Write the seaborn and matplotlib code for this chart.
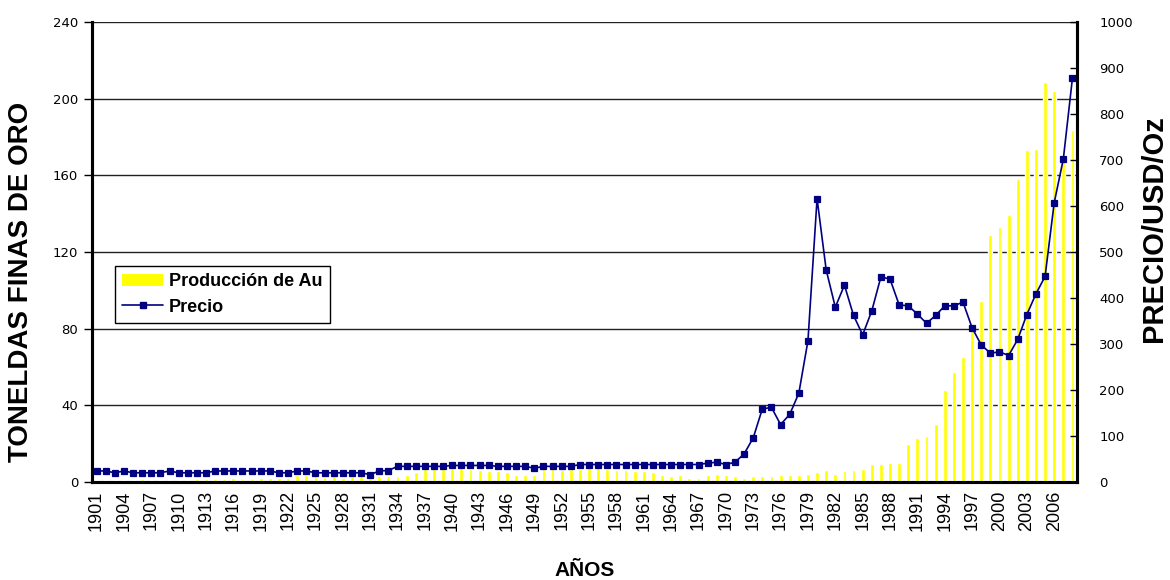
import matplotlib
matplotlib.use("Agg")
import matplotlib.pyplot as plt
import seaborn as sns
import pandas as pd
from matplotlib.patches import Patch
from matplotlib.lines import Line2D

years = list(range(1901, 2009))

produccion = [
    1.0, 1.0, 1.0, 1.0, 1.0, 1.6, 1.0, 1.0, 1.0, 1.0,      # 1901-1910
    1.0, 1.6, 1.6, 1.6, 1.6, 2.1, 1.6, 1.6, 2.1, 2.1,      # 1911-1920
    2.1, 2.1, 3.5, 3.5, 3.5, 2.8, 3.5, 2.1, 3.5, 3.5,      # 1921-1930
    2.1, 3.1, 3.1, 3.1, 3.5, 5.2, 7.0, 7.0, 7.0, 7.4,      # 1931-1940
    7.4, 7.0, 6.5, 5.8, 5.8, 5.3, 3.6, 3.6, 3.6, 7.0,      # 1941-1950
    7.4, 6.5, 7.0, 7.0, 7.8, 7.8, 6.7, 6.3, 6.3, 5.8,      # 1951-1960
    5.8, 5.3, 3.7, 3.1, 3.7, 2.2, 2.2, 3.6, 4.2, 3.7,      # 1961-1970
    3.3, 2.3, 3.1, 3.1, 3.1, 3.7, 3.7, 3.7, 4.2, 5.2,      # 1971-1980
    6.3, 4.2, 5.7, 6.3, 6.8, 9.4, 9.4, 9.9, 9.8, 19.8,     # 1981-1990
    23.0, 24.0, 30.3, 48.0, 57.4, 65.2, 78.7, 94.4, 128.8, 133.0,  # 1991-2000
    139.2, 158.0, 173.2, 173.7, 208.7, 204.0, 170.6, 183.6,        # 2001-2008
]

precio = [
    24, 24, 20, 24, 20, 20, 20, 20, 24, 20,        # 1901-1910
    20, 20, 20, 24, 24, 24, 24, 24, 24, 24,        # 1911-1920
    20, 20, 24, 24, 20, 20, 20, 20, 20, 20,        # 1921-1930
    16, 24, 25, 34, 34, 34, 34, 34, 34, 36,        # 1931-1940
    36, 36, 36, 36, 34, 34, 34, 34, 30, 34,        # 1941-1950
    34, 34, 34, 38, 38, 38, 38, 38, 38, 38,        # 1951-1960
    38, 38, 38, 38, 38, 38, 38, 41, 43, 38,        # 1961-1970
    43, 61, 96, 159, 162, 125, 147, 193, 307, 616, # 1971-1980
    461, 380, 428, 362, 320, 372, 446, 441, 385, 383,  # 1981-1990
    365, 345, 362, 383, 383, 391, 335, 298, 280, 283,  # 1991-2000
    275, 310, 364, 409, 447, 607, 702, 878,            # 2001-2008
]

left_ticks = [0, 40, 80, 120, 160, 200, 240]
right_ticks = [0, 100, 200, 300, 400, 500, 600, 700, 800, 900, 1000]
tick_years = years[::3]

df = pd.DataFrame({"year": [str(y) for y in years], "prod": produccion, "precio": precio})
order = df["year"].tolist()

sns.set_style("white")
plt.rcParams["font.family"] = ["Liberation Sans", "DejaVu Sans"]
for k in ("text.color", "axes.labelcolor", "xtick.color", "ytick.color", "axes.edgecolor"):
    plt.rcParams[k] = "black"

fig = plt.figure(figsize=(11.7, 5.8), dpi=100)
ax1 = fig.add_axes([92 / 1170, 98 / 580, 985 / 1170, 460 / 580])

sns.barplot(data=df, x="year", y="prod", order=order, color="#FFFF00",
            width=0.42, saturation=1, ax=ax1, zorder=3)
ax1.set_ylim(0, 240)
ax1.set_yticks(left_ticks)
ax1.set_yticklabels([str(t) for t in left_ticks], fontsize=9.5, family="DejaVu Sans")
ax1.grid(axis="y", color="#222222", linewidth=1.0)
ax1.grid(axis="x", visible=False)
ax1.set_axisbelow(True)

ax2 = ax1.twinx()
sns.pointplot(data=df, x="year", y="precio", order=order, color="#000080",
              marker="s", markersize=4, linewidth=1.2, errorbar=None, ax=ax2)
ax2.set_ylim(0, 1000)
ax2.set_yticks(right_ticks)
ax2.set_yticklabels([str(t) for t in right_ticks], fontsize=9.5, family="DejaVu Sans")
ax2.grid(False)

for ax in (ax1, ax2):
    ax.set_xlabel("")
    ax.set_ylabel("")
ax1.set_xlim(-0.5, len(years) - 0.5)
ax1.set_xticks([years.index(y) for y in tick_years])
ax1.set_xticklabels([str(y) for y in tick_years], rotation=90, fontsize=13)
ax1.tick_params(axis="x", length=0, pad=6)
ax1.tick_params(axis="y", direction="out", length=6, width=1, color="black", pad=4, left=True)
ax2.tick_params(axis="y", direction="in", length=5, width=1, color="black", pad=16, right=True)

for ax in (ax1, ax2):
    ax.spines["top"].set_visible(False)
    for s in ("left", "bottom", "right"):
        ax.spines[s].set_linewidth(2.2)
        ax.spines[s].set_color("black")

handles = [Patch(facecolor="#FFFF00", edgecolor="none", label="Producción de Au"),
           Line2D([0], [0], color="#000080", marker="s", markersize=4, linewidth=1.2, label="Precio")]
leg = ax2.legend(handles=handles, loc="lower left", bbox_to_anchor=(0.023, 0.346),
                 frameon=True, fancybox=False, framealpha=1, edgecolor="black",
                 prop={"family": "Liberation Sans", "weight": "bold", "size": 13},
                 handlelength=2.3, handletextpad=0.3, borderpad=0.4, labelspacing=0.45,
                 borderaxespad=0)
leg.get_frame().set_linewidth(1.0)

fig.text(21 / 1170, 1 - 282 / 580, "TONELDAS FINAS DE ORO", rotation=90, ha="center", va="center",
         fontsize=20, fontweight="bold")
fig.text(1154 / 1170, 1 - 229 / 580, "PRECIO/USD/Oz", rotation=90, ha="center", va="center",
         fontsize=21, fontweight="bold")
fig.text(585 / 1170, 1 - 570 / 580, "AÑOS", ha="center", va="center",
         fontsize=15, fontweight="bold")

fig.savefig("out.png", dpi=100)
